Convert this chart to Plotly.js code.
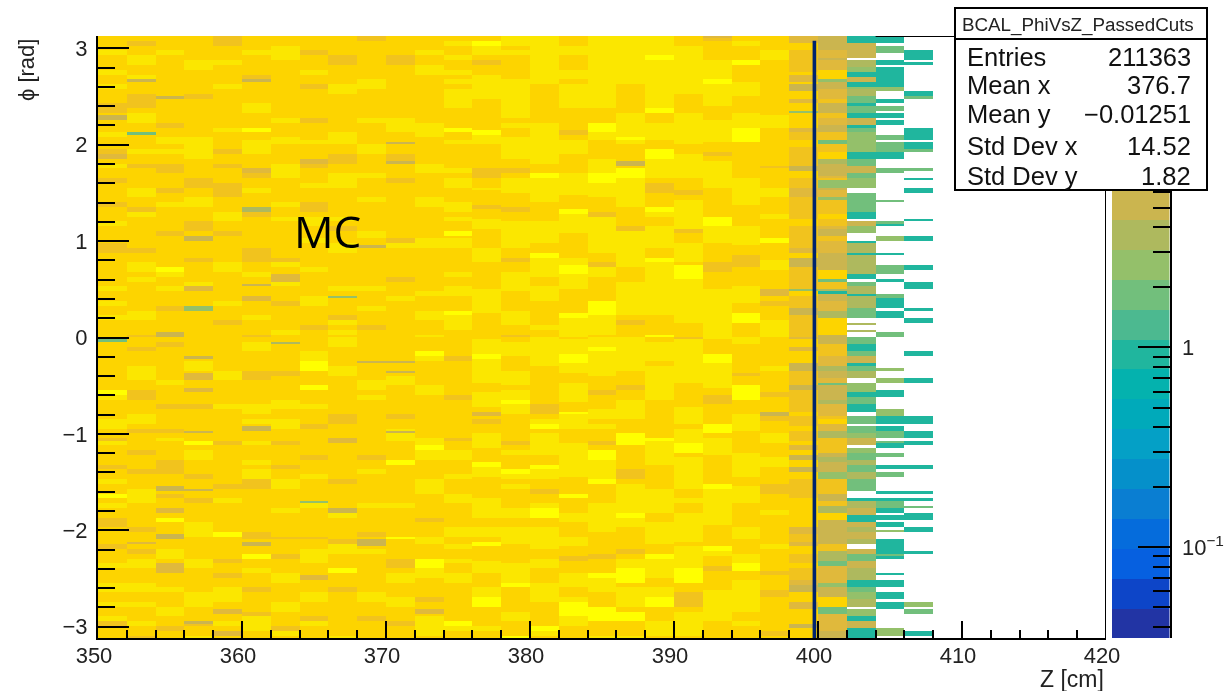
<!DOCTYPE html>
<html><head><meta charset="utf-8">
<script src="https://cdn.plot.ly/plotly-3.0.1.min.js"></script>
<style>html,body{margin:0;padding:0;background:#fff}#plot{width:1224px;height:691px;filter:blur(0.45px)}</style>
</head><body><div id="plot"></div>
<script>
// Palette levels, bottom to top of the colour bar
const levelColors=['#2234a4','#0d45c8','#0660e0','#056cdc','#0a7ed2','#0590ca','#04a0c6','#00aaba','#04b2ae','#20b69e','#4cb990','#72bf7c','#94c06a','#aeb95e','#cbb54f','#e0b93c','#f1c31e','#fdd400','#fbe700','#ffff00'];
const levelCodes={a:9,k:10,b:11,c:12,d:13,e:14,f:15,g:16,h:17,i:18,j:19};
const rowCount=250;
const binEdgesZ=[350,352,354,356,358,360,362,364,366,368,370,372,374,376,378,380,382,384,386,388,390,392,394,396,398,400,402,404,406,408,410,412,414,416,418,420];
const phiBottom=-3.117, phiTop=3.128;

// Cell levels, top row to bottom row, one string per Z bin from 350 to 398
const bodyColumns=[
"hhhihhhihhihhhgghhhhihhhgfhihhghhhhghhhihhhhgghhhhhhhihhihhihhhh"+"ghhhhhhhhhhjihhhhiihhgihhhhghhihhjhihhgghhhhghhhihhhiihhihhighhh",
"hghhiihhihhhggghiihhhhhhihhghhhhiihhgihhhhhhhghhiihihhhhhhiihhhg"+"hhghhhiiihhgghhhiihghhhhghhhghhhiiihhhhhghhhhghiihhhiihhihhhihhg",
"hhhihhhhhhhhhhhhhhghhiihihhgghhhghhihhhhhghhhhhhhjihhihhhghhhhhi"+"hghhhhhhhihhhhghhhhghihhhhggghhhhghhfhjhhhghhiihffhhhihhhiihhghh",
"hhhhhiihhhhhghhhhhhhhiiiiihhhhgghhiihhhgghhhhhhghhhhifhhhghhhhhh"+"hhhhhiihfhhhhhghhhhhhhjhiihhhghhhhghhhhiiihhhhhiihhhhhiiihhhghhi",
"gghhhihhhhihhhhhhhhihhhhghhghhhggghhhiihhghhhhhhiihhhhhhihhhghhh"+"hhhhhhhiihhhhhihhhhhhhghhhhhhhhghhihhhhhhjhhhhhghhghhiiihhhhihfh",
"hhhihhhhghhhhhiihhhjhhiiihhhfghhihhhhghhhhhhhggghhihhhhfhhhihhhg"+"hiihhhhgghhhhhiihihhhhihhhihiigghhhhhhhhhgghhhjhhihhhghhhhgiiihh",
"hhiiihhhhhhhhhhhhihhhiihhhhiiihhhhhihhihhhhhhhhgihhiihhhghhhhhih"+"hhhhhhhghhhhhiihhiihhhghhhhghhiihhhhihhhhhghhhghhhiihhhhiihhhgih",
"hhhghhhihhghhhhhhghhhhihhhgghhhihhhgghiihhhihhhhhihhhhhiihhhhghh"+"hhhiijjhhhjhhhihhhghhhhhhghhhihhhhhihhhhhhghhiiihhhhhhiihhhgihhh",
"hhhhgghhhhiihhhhhhhhiiihhgghhiiihhhhhhihghhhiihhhhhhhihhhhhgihih"+"iihhhhiihhhhhhhhgghhhhhhhhhhhhghhhhhhihhhhhgiihhhjhhhghhhhhhhhhi",
"ghhhhhhhhiihhhhhhihhhhhiihhhhihhhhihhhhhhiihhhhhhhhhhihhhihhhghh"+"hhhhhhhhhiihihhhhhhhhhhhhghhihhhhhhihhhhhghhhihhhhhhhhiihhhghhhh",
"hhhhgghhhhhhhhhhhiiihhhhhgghhhghhhhhhhhhhhhgihhhhhhghhhihhhhhhhh"+"hhhhhhhhiihhhhhhghhiiihhhhjhhhhhhhhihhhhhhjhhhhgghiihhhiihhhghhh",
"hhhihhiihhhhhhhhhhiiihhhhhhiihhhhhiihhhhhhhiihhhhhhhhhihhhiihhhi"+"hhhjihhhhhiihhhhhhhhhiijiihhhhiiihhhhhghhhiihhhjjiihhhhghhhiiiih",
"hihhihhihihiiiihhhhjhhihhhhhihiihhhiihihhjhiihhhhhihhiihhhjiiihh"+"hhhhghhhhhhhghhhhhhhhghhiihhhihhhiihhhhhiihhihhihhiihhhhhhhhjihh",
"hjiihghhiiiiihhhhhhhjiihhhhhgghhihhhghhiihhhhiiihhhhhhiiiiihhhhhh"+"iiijiiiiihhiiihhhghhiiihhhjiihhhhhiiiihhiihjhhhiiihhhiijjhhhhihh",
"iihihhhhhiiiiiiiihihhiiiiihhghiiihhhghhiiiiiihhghhiiiihhhhiiihhg"+"hiiihhhiiihiijiihhhhhhghihhhjihihhhhiihhiiiihhhhiiiijhhhhhiihhhj",
"iiiiiiiiiihhhhhhhhiiiiiiiiihhjiiiiihhhhiiiiihhjiiiihhiiihhhhhihh"+"iiiiiihhhhhhhhgghijhiiiiihhjiihhghhijjhhiiiiihhiihhhiiiihhhhhjih",
"hhiihhhiihiiiiihhhhhghiiihhhhiiiiihhhjiiiihhhhhiijjiiihhhhhjiiiih"+"iiijjiihhiiiihhjiiihhhiiiiiiihhhhjhhhiihhhiihhghhhiiihhijjjiihhh",
"iiiiiiiiiiiiiiihhhjjiihhhhiiijjiiihhhgiiiiiiiihhgiihhhhhjjjiiiih"+"iijiiiiihhhghhhiihihhhghjjiiiijhhhhiiiiiihhhhhghhhjiiihhhjjjhhhi",
"iiiiiiiiiihhhhhhiiiiijihhhhhjjiiiiiihhhhgiiiiiiiihhhiiiiiiihghhh"+"iiiiiiihhhghhiiiihhhjjjhhhhhgghiiiiiijiihhhhhghiijjjhiiiihjjhhhi",
"iiiijiiiiiiiiiijhhiiiihhjjiiiihgghhhjihhiiiiihhjiiiiiiiiiiihhhhj"+"hiiiihiiiiiiihhhhhhhhjiiiiihhhhhiiiiihhiiiiihhjiiiihhiijjhhhiiih",
"hhiiiiiiiiiihhhhiiiiiiihhiiiiihhhghiiiiiighhiiiihjjjiiiiiiiiihhhg"+"iiiiiiiiihhhhhiiiihiiijjhiiiiiiihhihhiiiiiihiiiiijjjhhggghiiiiih",
"ghhhhiiiijiiiiihhhiiiiihhghiiiiiihhhhhhjjiiiihhhhgghhhhiiiiiiiiiii"+"hhhjjiiiiihhgghhhhjjhiiiihhhhhhjiiiiiiiihhhhhjihhghhhhiiiiiiihhhh",
"hihhhjhhhhiiihhhhiiijjjhhhhhhhhiiiiiihhhhhiiiihhggghhhhiiiihhjjhhh"+"iihhhhhhghhjjjhhhiiiihhhhhiiiiihhiiiihhhhhiiihhhiijjhhiiiiiiihhihhh",
"hhhiihhhhhhhhhhhhiiihhhhhhhhghhhhiihhhhihhhhjhhhhiihhhhihhghhhiiii"+"hhhhhhihhhhhghhhhghhhiihhhiihhhhgghhhhihhhhhhihhhhhghhhgghhhhhhhgh"
];

// Finer reading of the bins from 398 to 408: first-last row and level
const column398="0-2f 3-5h 6-14g 15h 16-18f 19h 20-22e 23-25h 26-27f 28-30h 31c 32-37h 38-39f 40-42g 43-45h 46-53g 54-55e 56-58h 59-62g 63-64f 65-66f 67-75g 76h 77-78h 79-87g 88-89f 90-91h 92-95e 96-104g 105c 106-107h 108-112g 113-115e 116-124g 125f 126-128h 129-130f 131-135h 136-138e 139-144g 145-146e 147-155g 156-157h 158-161g 162-163h 164-167g 168-169h 170-171f 172-173h 174-175e 176-178h 179-180e 181-183h 184-191g 192-203h 204-206f 207-209g 210-211f 212-214h 215-218g 219-220h 221-225g 226-227f 228-230e 231-234h 235-237f 238-243h 244-245e 246-249h";
const column400="0-5e 6-8f 9e 10-13f 14-17h 18c 19-21e 22-25f 26-27g 28-31e 32-33g 34-36f 37-39e 40-42g 43-44b 45-47g 48-50h 51-52d 53-57e 58f 59g 60-62c 63e 64-66f 67c 68-73g 74-75h 76-78g 79f 80-82e 83-84g 85-89f 90-93e 94-96e 97-100h 101b 102-104g 105d 106a 107-109e 110-113f 114-116d 117-123h 124-127e 128-132g 133-136f 137-138d 139-141e 142-143f 144b 145-146e 147-150e 151-152d 153-157f 158g 159-160h 161-163f 164-166d 167-172g 173-174e 175-176d 177-180e 181-183c 184-189g 190-192e 193-194g 195-197d 198h 199-200h 201-206e 207-210e 211-213g 214-217d 218-219b 220-226f 227-228c 229-232e 233-236h 237-239b 240-246f 247-249e";
const column402="0-2a 3-8e 10-12d 13-14c 15-16a 17-18e 19-20a 21c 22-24d 25-27b 28a 29-31b 32-33a 34-36e 37a 38-39b 40-47c 48-50a 51-53b 54-56e 57-58b 59-62c 65-72b 73-75a 77-78e 79c 80-81c 85a 86-89d 90a 91-98d 99-100a 102-103b 104-106d 107a 108-112d 113-116b 119d 122d 125-127b 128-130a 131-132b 133-135e 136a 137-138b 139-141d 144-147c 148-149a 150-152b 153-155a 158-160b 162-164b 165-166c 167-169e 171-172c 173-175b 176-177d 178-180b 181-183d 184-188b 192a 193-195d 196-198e 199-201a 202-203e 204-205d 206-208e 209-210d 213-214e 215-217b 218-220e 221-225d 226-228a 229-230b 231-233c 234-236d 238-240c 241-242a 243-245e 246-249a";
const column404="0-2a 4-6b 10-11a 13-14a 15-20a 21-22c 26-27a 29-30b 32-33a 35-36a 41-42b 44-47b 48-50a 55-56b 68b 77b 78a 83-84c 90a 95-98b 101a 107-108b 109-112a 114-116a 123-124b 138c 142-143c 147-149a 155-157c 158-160a 162-163a 164-166b 168b 169-170a 173-174b 178-179a 181-182b 189a 192a 193-195b 196-197a 199-200a 202-203a 205c 209-211a 212-214a 215b 216a 223a 226-228a 231-233a 235-237a 246-248c";
const column406="6-9a 11a 23-24a 25b 38-42a 44-46a 47b 55b 59a 63-64a 76a 83-84a 95-96a 102-104a 113a 117-118a 131-132a 142-143a 158-160a 164-166a 168-169a 178-179a 189a 192a 195b 198-200a 204-205a 214a 235-236c 238-239b 247-248a";
const fineColumns=[[398,column398],[400,column400],[402,column402],[404,column404],[406,column406]];

// Single thin rows standing out in the body: Z bin, row, level
const thinRows=[[352,18,'e'],[352,40,'b'],[360,18,'e'],[354,25,'e'],[356,83,'e'],[356,84,'e'],[356,112,'c'],[356,113,'c'],[360,71,'d'],[360,72,'d'],[366,108,'c'],[368,87,'e'],[362,99,'f'],[362,100,'f'],[362,101,'f'],[370,44,'e'],[370,52,'e'],[364,51,'f'],[364,52,'f'],[350,33,'e'],[350,34,'e'],[354,123,'e'],[354,124,'e'],[360,103,'e'],[350,126,'b'],[356,133,'e'],[362,127,'d'],[368,135,'e'],[370,135,'e'],[370,139,'e'],[356,140,'f'],[356,141,'f'],[356,146,'f'],[356,147,'f'],[354,187,'e'],[354,188,'e'],[356,188,'e'],[364,193,'c'],[366,196,'e'],[366,197,'e'],[354,207,'e'],[354,208,'e'],[360,210,'e'],[360,211,'e'],[368,209,'e'],[368,210,'e'],[368,211,'e'],[352,210,'f'],[364,224,'f'],[364,225,'f'],[358,238,'f'],[358,239,'f'],[372,238,'f'],[372,239,'f'],[356,243,'e'],[366,167,'f'],[366,168,'f'],[360,162,'e'],[360,163,'e'],[356,164,'e'],[370,164,'e'],[386,52,'e'],[386,53,'e'],[392,0,'f'],[396,105,'f'],[396,106,'f'],[396,107,'f'],[376,156,'f'],[376,157,'f'],[396,156,'e'],[396,157,'e']];

// Colour bar level edges in log10 of the content
const barEdges=[-1.46,-1.31,-1.16,-1.01,-0.86,-0.71,-0.56,-0.41,-0.26,-0.11,0.04,0.19,0.34,0.49,0.64,0.79,0.94,1.09,1.24,1.39,1.56];
const barMajorTicks=[-1,0];
const barMajorLabels=['10<sup>\u22121</sup>','1'];
const barMinorTicks=[0.04,0.05,0.06,0.07,0.08,0.09,0.2,0.3,0.4,0.5,0.6,0.7,0.8,0.9,2,3,4,5,6,7,8,9,20,30].map(Math.log10);

// Statistics box
const statsTitle='BCAL_PhiVsZ_PassedCuts';
const statsNames=['Entries','Mean x','Mean y','Std Dev x','Std Dev y'];
const statsValues=['211363','376.7','\u22120.01251','14.52','1.82'];

// ---- build matrix
const z=[];
for(let r=0;r<rowCount;r++){z.push(new Array(binEdgesZ.length-1).fill(null));}
bodyColumns.forEach((s,c)=>{
  for(let r=0;r<rowCount;r++){ // row 0 is the top of the picture
    const ch=s.charAt(Math.floor(r/rowCount*s.length));
    z[rowCount-1-r][c]=levelCodes[ch];
  }
});
fineColumns.forEach(([zb,s])=>{
  const c=binEdgesZ.indexOf(zb);
  for(let r=0;r<rowCount;r++) z[r][c]=null;
  for(const m of s.matchAll(/(\d+)(?:-(\d+))?([a-k])/g)){
    const a=+m[1],b=m[2]?+m[2]:a;
    for(let r=a;r<=b;r++) z[rowCount-1-r][c]=levelCodes[m[3]];
  }
});
thinRows.forEach(([zb,r,ch])=>{z[rowCount-1-r][binEdgesZ.indexOf(zb)]=levelCodes[ch];});
const phiEdges=[];
for(let i=0;i<=rowCount;i++)phiEdges.push(phiBottom+(phiTop-phiBottom)*i/rowCount);

const colorscale=levelColors.map((c,i)=>[i/(levelColors.length-1),c]);
const barZ=levelColors.map((c,i)=>[i]);

const W=1224,H=691;
const px=x=>x/W, py=y=>1-y/H;
const fontFam='"Liberation Sans",Arial,sans-serif';
const shapes=[
 {type:'line',xref:'x',yref:'y',x0:420,x1:420,y0:phiBottom,y1:phiTop,line:{color:'#000',width:2},layer:'above'},
 {type:'line',xref:'x',yref:'y',x0:404,x1:420,y0:phiTop,y1:phiTop,line:{color:'#000',width:2},layer:'above'},
 {type:'line',xref:'x',yref:'y',x0:399.75,x1:399.75,y0:phiBottom,y1:3.078,line:{color:'#00246e',width:3.6},layer:'above'},
 {type:'rect',xref:'paper',yref:'paper',x0:px(955),x1:px(1207),y0:py(190),y1:py(8),fillcolor:'#fff',line:{color:'#000',width:2},layer:'above'},
 {type:'line',xref:'paper',yref:'paper',x0:px(955),x1:px(1207),y0:py(39),y1:py(39),line:{color:'#000',width:2},layer:'above'}
];
const annotations=[
 {xref:'paper',yref:'paper',x:px(327),y:py(231),text:'MC',showarrow:false,font:{family:'"Open Sans",sans-serif',size:44,color:'#000'},xanchor:'center',yanchor:'middle'},
 {xref:'paper',yref:'paper',x:px(1106),y:py(679),text:'Z [cm]',showarrow:false,font:{family:fontFam,size:23,color:'#222'},xanchor:'right',yanchor:'middle'},
 {xref:'paper',yref:'paper',x:px(26),y:py(70),text:'\u03d5 [rad]',textangle:-90,showarrow:false,font:{family:fontFam,size:22,color:'#222'},xanchor:'center',yanchor:'middle'},
 {xref:'paper',yref:'paper',x:px(1078),y:py(25),text:statsTitle,showarrow:false,font:{family:fontFam,size:18.8,color:'#222'},xanchor:'center',yanchor:'middle'}
];
const statsRowY=[57,85,114,146,176];
statsNames.forEach((n,i)=>{
  annotations.push({xref:'paper',yref:'paper',x:px(965),y:py(statsRowY[i]),text:n,showarrow:false,font:{family:fontFam,size:25.5,color:'#111'},xanchor:'left',yanchor:'middle'});
  annotations.push({xref:'paper',yref:'paper',x:px(1193),y:py(statsRowY[i]),text:statsValues[i],showarrow:false,font:{family:fontFam,size:25.5,color:'#111'},xanchor:'right',yanchor:'middle'});
});

const data=[
 {type:'heatmap',x:binEdgesZ,y:phiEdges,z:z,colorscale:colorscale,zmin:0,zmax:19,showscale:false,hoverinfo:'skip',zsmooth:false,xaxis:'x',yaxis:'y'},
 {type:'heatmap',x:[0,1],y:barEdges,z:barZ,colorscale:colorscale,zmin:0,zmax:19,showscale:false,hoverinfo:'skip',zsmooth:false,xaxis:'x2',yaxis:'y2'}
];
const tickFont={family:fontFam,size:22,color:'#222'};
const layout={
 width:W,height:H,margin:{l:0,r:0,t:0,b:0},paper_bgcolor:'#fff',plot_bgcolor:'#fff',showlegend:false,
 xaxis:{domain:[px(98),px(1106)],range:[350,420],tickvals:[350,360,370,380,390,400,410,420],ticks:'inside',ticklen:17,tickwidth:2,tickcolor:'#000',
   showline:true,linecolor:'#000',linewidth:2,showgrid:false,zeroline:false,tickfont:tickFont,ticklabelshift:-4,ticklabelstandoff:-3,
   minor:{dtick:2,tick0:350,ticks:'inside',ticklen:8,tickwidth:2,tickcolor:'#000',showgrid:false},anchor:'y'},
 yaxis:{domain:[py(638),py(36)],range:[phiBottom,phiTop],tickvals:[-3,-2,-1,0,1,2,3],ticks:'inside',ticklen:31,tickwidth:2,tickcolor:'#000',
   showline:true,linecolor:'#000',linewidth:2,showgrid:false,zeroline:false,tickfont:tickFont,ticklabelstandoff:4,
   minor:{dtick:0.2,tick0:0,ticks:'inside',ticklen:17,tickwidth:2,tickcolor:'#000',showgrid:false},anchor:'x'},
 xaxis2:{domain:[px(1112),px(1169.5)],range:[0,1],visible:false,anchor:'y2'},
 yaxis2:{domain:[py(638),py(36)],range:[barEdges[0]+0.005,barEdges[barEdges.length-1]],side:'right',anchor:'x2',tickmode:'array',tickvals:barMajorTicks,ticktext:barMajorLabels,
   ticks:'inside',ticklen:32,tickwidth:2,tickcolor:'#000',showline:true,linecolor:'#000',linewidth:2,showgrid:false,zeroline:false,tickfont:tickFont,ticklabelstandoff:6,
   minor:{tickmode:'array',tickvals:barMinorTicks,ticks:'inside',ticklen:17,tickwidth:2,tickcolor:'#000',showgrid:false}},
 shapes:shapes,annotations:annotations
};
Plotly.newPlot('plot',data,layout,{staticPlot:true,displayModeBar:false});
</script></body></html>
